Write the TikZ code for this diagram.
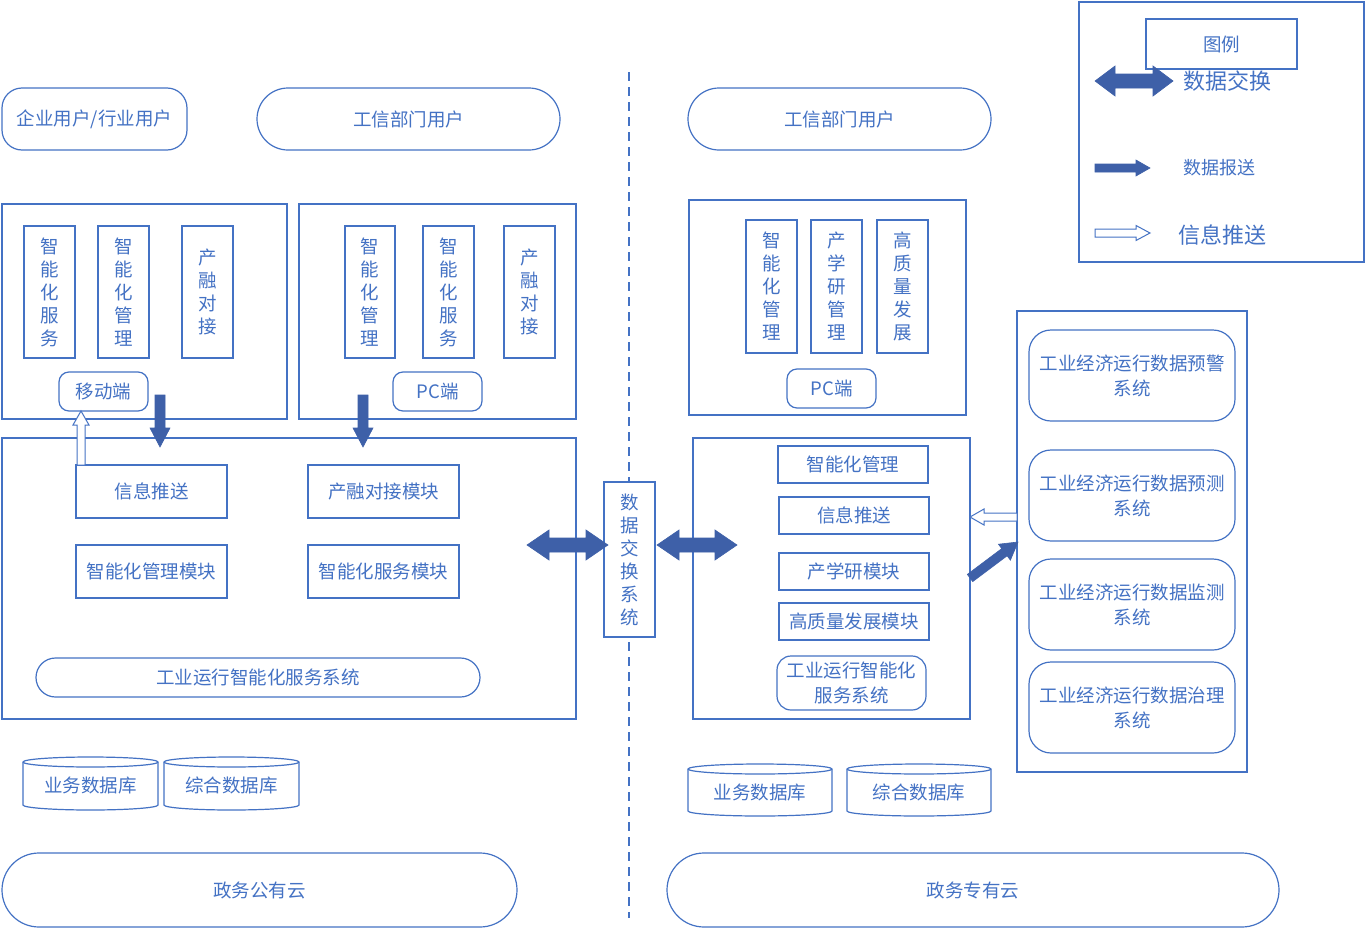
\documentclass[tikz,border=0pt]{standalone}
\usepackage{fontspec}
\setmainfont{Noto Sans CJK SC}
\usetikzlibrary{calc}
\definecolor{LC}{RGB}{68,114,196}
\definecolor{AF}{RGB}{62,96,168}
\tikzset{
  bx/.style={draw=LC, line width=1.2pt, fill=white, text=LC, inner sep=0pt, align=center, font=\fontsize{18.5}{23}\selectfont},
  rbx/.style={bx, rounded corners=#1},
  rbx/.default=10,
  twol/.style={font=\fontsize{18.5}{25}\selectfont},
  lbl/.style={text=LC, inner sep=0pt, align=center, font=\fontsize{18.5}{23}\selectfont},
  solidarr/.style={fill=AF, draw=AF, line width=0.6pt, line join=miter},
  hollowarr/.style={fill=white, draw=LC, line width=1pt, line join=miter},
}
% box by corners: [style]{x1}{y1}{x2}{y2}{name}
\newcommand\B[6][bx]{\node[#1, minimum width={#4-#2}, minimum height={#5-#3}] (#6) at ({(#2+#4)/2},{(#3+#5)/2})}
% cylinder: {x1}{y1}{x2}{y2}{name}{text}
\newcommand\Cyl[6]{%
  \pgfmathsetmacro\rx{(#3-#1)/2}
  \draw[LC, line width=1.2pt, fill=white] (#1,{#2+5}) -- (#1,{#4-5}) arc[start angle=180, end angle=360, x radius=\rx pt, y radius=5pt] -- (#3,{#2+5}) arc[start angle=0, end angle=180, x radius=\rx pt, y radius=5pt] -- cycle;
  \draw[LC, line width=1.2pt] (#1,{#2+5}) arc[start angle=180, end angle=360, x radius=\rx pt, y radius=5pt];
  \node[lbl] (#5) at ({(#1+#3)/2},{(#2+#4)/2+2}) {#6};
}
% block arrow: {style}{x}{y}{angle}{length}{shaft half}{head half}{head length}
\newcommand\fatarr[8]{\draw[#1, shift={(#2,#3)}, rotate=#4] (0pt,-#6pt) -- ({#5pt-#8pt},-#6pt) -- ({#5pt-#8pt},-#7pt) -- (#5pt,0pt) -- ({#5pt-#8pt},#7pt) -- ({#5pt-#8pt},#6pt) -- (0pt,#6pt) -- cycle;}
\newcommand\dblarr[8]{\draw[#1, shift={(#2,#3)}, rotate=#4] (0pt,0pt) -- (#8pt,#7pt) -- (#8pt,#6pt) -- ({#5pt-#8pt},#6pt) -- ({#5pt-#8pt},#7pt) -- (#5pt,0pt) -- ({#5pt-#8pt},-#7pt) -- ({#5pt-#8pt},-#6pt) -- (#8pt,-#6pt) -- (#8pt,-#7pt) -- cycle;}

\begin{document}
\begin{tikzpicture}[x=1pt,y=-1pt]
\useasboundingbox (0,0) rectangle (1366,929);

% dashed divider
\coordinate (dtop) at (629,72);
\coordinate (dbot) at (629,918);
\draw[LC, line width=1.5pt, dash pattern=on 9pt off 6pt] (dtop) -- (dbot);

% top users
\B[rbx=20]{2}{88}{187}{150}{ent}{企业用户/行业用户};
\B[rbx=31]{257}{88}{560}{150}{gxL}{工信部门用户};
\B[rbx=31]{688}{88}{991}{150}{gxR}{工信部门用户};

% left upper box 1
\B{2}{204}{287}{419}{lb1}{};
\B{24}{226}{75}{358}{l1a}{智\\能\\化\\服\\务};
\B{98}{226}{149}{358}{l1b}{智\\能\\化\\管\\理};
\B{182}{226}{233}{358}{l1c}{产\\融\\对\\接};
\B[rbx=10]{59}{372}{148}{411}{mob}{移动端};

% left upper box 2
\B{299}{204}{576}{419}{lb2}{};
\B{345}{226}{395}{358}{l2a}{智\\能\\化\\管\\理};
\B{423}{226}{474}{358}{l2b}{智\\能\\化\\服\\务};
\B{504}{226}{555}{358}{l2c}{产\\融\\对\\接};
\B[rbx=10]{393}{372}{482}{411}{pcL}{PC端};

% left big box
\B{2}{438}{576}{719}{lbig}{};
\B{76}{465}{227}{518}{xxts}{信息推送};
\B{308}{465}{459}{518}{crdj}{产融对接模块};
\B{76}{545}{227}{598}{znglm}{智能化管理模块};
\B{308}{545}{459}{598}{znfwm}{智能化服务模块};
\B[rbx=19.5]{36}{658}{480}{697}{sysL}{工业运行智能化服务系统};

% left databases and cloud
\Cyl{23}{757}{158}{810}{dbL1}{业务数据库}
\Cyl{164}{757}{299}{810}{dbL2}{综合数据库}
\B[rbx=37]{2}{853}{517}{927}{pub}{政务公有云};

% exchange
\B{604}{482}{655}{637}{xch}{数\\据\\交\\换\\系\\统};

% right upper box
\B{689}{200}{966}{415}{rb1}{};
\B{746}{220}{797}{353}{r1a}{智\\能\\化\\管\\理};
\B{811}{220}{862}{353}{r1b}{产\\学\\研\\管\\理};
\B{877}{220}{928}{353}{r1c}{高\\质\\量\\发\\展};
\B[rbx=10]{787}{369}{876}{408}{pcR}{PC端};

% right big box
\B{693}{438}{970}{719}{rbig}{};
\B{778}{446}{928}{483}{rm1}{智能化管理};
\B{779}{497}{929}{534}{rm2}{信息推送};
\B{779}{553}{929}{590}{rm3}{产学研模块};
\B{779}{603}{929}{640}{rm4}{高质量发展模块};
\B[{rbx=14,twol}]{777}{656}{926}{710}{sysR}{工业运行智能化\\服务系统};

% right column
\B{1017}{311}{1247}{772}{col}{};
\B[{rbx=22,twol}]{1029}{330}{1235}{421}{s1}{工业经济运行数据预警\\系统};
\B[{rbx=22,twol}]{1029}{450}{1235}{541}{s2}{工业经济运行数据预测\\系统};
\B[{rbx=22,twol}]{1029}{559}{1235}{650}{s3}{工业经济运行数据监测\\系统};
\B[{rbx=22,twol}]{1029}{662}{1235}{753}{s4}{工业经济运行数据治理\\系统};

% right databases and cloud
\Cyl{688}{764}{832}{816}{dbR1}{业务数据库}
\Cyl{847}{764}{991}{816}{dbR2}{综合数据库}
\B[rbx=37]{667}{853}{1279}{927}{pri}{政务专有云};

% legend
\B{1079}{2}{1364}{262}{leg}{};
\B{1146}{19}{1297}{69}{legt}{图例};
\dblarr{solidarr}{1095}{81}{0}{78}{7}{15}{20}
\node[lbl, font=\fontsize{22}{26}\selectfont] (lg1) at (1227,81) {数据交换};
\fatarr{solidarr}{1095}{168}{0}{55}{4}{8}{14}
\node[lbl, font=\fontsize{18}{22}\selectfont] (lg2) at (1219,168) {数据报送};
\fatarr{hollowarr}{1095}{233}{0}{55}{4}{7.5}{14}
\node[lbl, font=\fontsize{22}{26}\selectfont] (lg3) at (1222,235) {信息推送};

% arrows
\fatarr{solidarr}{160}{395}{-90}{52}{5}{10}{19}
\fatarr{solidarr}{363}{395}{-90}{52}{5}{10}{19}
\fatarr{hollowarr}{81}{465}{90}{54}{4}{8}{14}
\dblarr{solidarr}{527}{545}{0}{81}{7}{15}{22}
\dblarr{solidarr}{657}{545}{0}{80}{7}{15}{22}
\fatarr{hollowarr}{1017}{517}{180}{47}{4}{8}{14}
\fatarr{solidarr}{970}{578}{36.87}{60}{4.5}{10}{17}

\end{tikzpicture}
\end{document}
